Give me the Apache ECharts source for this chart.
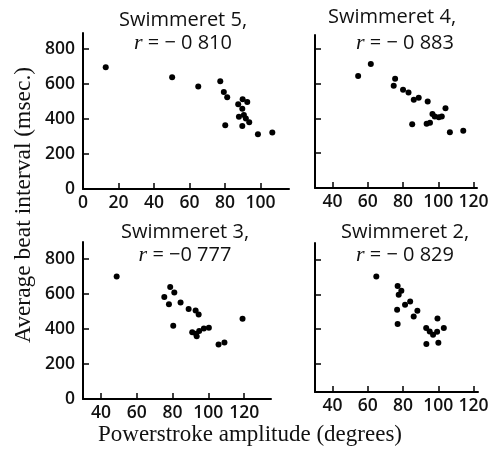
<!DOCTYPE html>
<html>
<head>
<meta charset="utf-8">
<script src="https://cdn.jsdelivr.net/npm/echarts@6/dist/echarts.min.js"></script>
<style>
  html, body { margin: 0; padding: 0; background: #fff; }
  #chart { width: 496px; height: 457px; }
</style>
</head>
<body>
<div id="chart"></div>
<script>
// panel titles, top-left, top-right, bottom-left, bottom-right
const panelNames = ['Swimmeret 5,', 'Swimmeret 4,', 'Swimmeret 3,', 'Swimmeret 2,']
const rValues = ['\u2212 0 810', '\u2212 0 883', '\u22120 777', '\u2212 0 829']

// tick labels
const beatTicks = [0, 200, 400, 600, 800]
const beatTicks2 = [200, 400, 600, 800]
const ampTicks5 = [0, 20, 40, 60, 80, 100]
const ampTicks = [40, 60, 80, 100, 120]

// powerstroke amplitude (deg) / average beat interval (msec)
const amp5 = [12.8, 50.2, 64.9, 77.3, 79.3, 81.2, 80.1, 87.4, 89.9, 92.5, 89.7, 87.8, 90.6, 91.7, 89.7, 93.6, 98.5, 106.6]
const beat5 = [695, 638, 585, 615, 554, 524, 364, 484, 513, 497, 459, 413, 423, 402, 360, 381, 312, 322]

const amp4 = [54.5, 61.7, 75.5, 74.7, 80, 83.1, 86.1, 88.9, 94, 85.2, 93.4, 95.3, 96.7, 98, 100.3, 102, 104.1, 106.6, 114.2]
const beat4 = [644, 713, 628, 588, 565, 549, 507, 519, 497, 367, 369, 376, 426, 411, 407, 411, 459, 321, 329]

const amp3 = [48.8, 78.7, 81, 75.4, 78, 84.5, 80.4, 89, 92.9, 94.6, 91, 93.1, 93.5, 94.9, 97.5, 100.3, 105.7, 109, 119.1]
const beat3 = [700, 640, 609, 583, 541, 552, 419, 514, 506, 483, 381, 373, 358, 389, 403, 407, 312, 323, 459]

const amp2 = [64.8, 76.9, 79, 77.5, 81.1, 84, 76.6, 88.1, 86, 76.9, 93.1, 95.1, 97, 99.3, 103.1, 99.5, 93.2, 100]
const beat2 = [705, 649, 622, 599, 541, 560, 512, 506, 473, 429, 406, 386, 367, 384, 406, 461, 313, 320]

const chart = echarts.init(document.getElementById('chart'))

const tickFont = { color: '#111', fontFamily: 'Open Sans', fontSize: 17.5, fontWeight: 600 }

function pairs(xs, ys) {
  return xs.map((x, i) => [x, ys[i]])
}

function xAx(idx, min, max, ticks) {
  return {
    type: 'value', gridIndex: idx, min: min, max: max,
    axisLine: { onZero: false, lineStyle: { color: '#000', width: 2 } },
    axisTick: { inside: true, length: 6, lineStyle: { color: '#000', width: 1.5 }, customValues: ticks },
    axisLabel: Object.assign({ margin: 5, customValues: ticks }, tickFont),
    splitLine: { show: false }
  }
}

function yAx(idx, min, max, ticks, showLabel) {
  return {
    type: 'value', gridIndex: idx, min: min, max: max,
    axisLine: { show: true, onZero: false, lineStyle: { color: '#000', width: 2 } },
    axisTick: { show: true, inside: true, length: 6, lineStyle: { color: '#000', width: 1.5 }, customValues: ticks },
    axisLabel: Object.assign({ show: showLabel, margin: 8, customValues: ticks }, tickFont),
    splitLine: { show: false }
  }
}

function scatter(idx, xs, ys) {
  return {
    type: 'scatter', xAxisIndex: idx, yAxisIndex: idx,
    data: pairs(xs, ys),
    symbolSize: 6,
    itemStyle: { color: '#000', opacity: 1 },
    silent: true
  }
}

const titlePos = [[183, 9, 183, 32], [392, 6, 405, 32], [185, 221, 185, 244], [405, 221, 405, 244]]
const titles = []
panelNames.forEach(function (name, i) {
  const p = titlePos[i]
  titles.push({
    text: name, left: p[0], top: p[1], textAlign: 'center', padding: 0,
    textStyle: { fontFamily: 'Open Sans', fontSize: 20, fontWeight: 500, color: '#111', lineHeight: 22 }
  })
  titles.push({
    text: '{i|r}{n| = ' + rValues[i] + '}', left: p[2], top: p[3], textAlign: 'center', padding: 0,
    textStyle: {
      rich: {
        i: { fontFamily: 'Liberation Serif', fontStyle: 'italic', fontWeight: 'normal', fontSize: 22, color: '#111', lineHeight: 22 },
        n: { fontFamily: 'Open Sans', fontSize: 20, fontWeight: 500, color: '#111', lineHeight: 22 }
      }
    }
  })
})

chart.setOption({
  animation: false,
  backgroundColor: '#fff',
  title: titles,
  grid: [
    { left: 83, top: 33, width: 206, height: 156 },
    { left: 315, top: 35, width: 162, height: 153 },
    { left: 83, top: 242, width: 188, height: 157 },
    { left: 315, top: 243, width: 163, height: 149 }
  ],
  xAxis: [
    xAx(0, 0, 116, ampTicks5),
    xAx(1, 30, 122, ampTicks),
    xAx(2, 30, 135, ampTicks),
    xAx(3, 30, 122.5, ampTicks)
  ],
  yAxis: [
    yAx(0, 0, 891, beatTicks, true),
    yAx(1, 0, 880, beatTicks, false),
    yAx(2, 0, 897, beatTicks, true),
    yAx(3, 35, 899, beatTicks2, false)
  ],
  series: [
    scatter(0, amp5, beat5),
    scatter(1, amp4, beat4),
    scatter(2, amp3, beat3),
    scatter(3, amp2, beat2)
  ],
  graphic: [
    {
      type: 'text', x: 24, y: 205, rotation: Math.PI / 2,
      style: {
        text: 'Average beat interval (msec.)', fill: '#111',
        font: '23.5px "Liberation Serif"', align: 'center', verticalAlign: 'middle'
      }
    },
    {
      type: 'text', x: 250, y: 435,
      style: {
        text: 'Powerstroke amplitude (degrees)', fill: '#111',
        font: '23px "Liberation Serif"', align: 'center', verticalAlign: 'middle'
      }
    }
  ]
})

window.onresize = function () {
  chart.resize()
}
</script>
</body>
</html>
